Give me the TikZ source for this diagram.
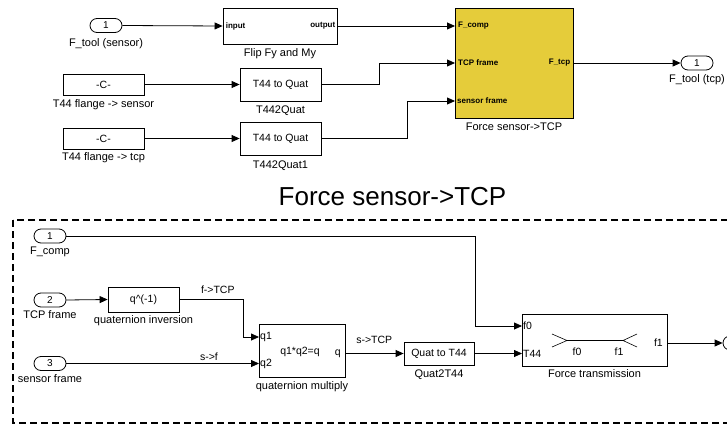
\documentclass[tikz,border=0pt]{standalone}
\usepackage{fontspec}
\setmainfont{Liberation Sans}
\usetikzlibrary{arrows.meta, positioning, calc}

\definecolor{subsysyellow}{RGB}{229,204,58}

\tikzset{
  blk/.style={draw, line width=0.8pt, fill=white, inner sep=0pt, font=\fontsize{10.5}{12}\selectfont},
  inport/.style={draw, line width=0.8pt, rounded corners=7pt, minimum width=32pt, minimum height=14pt, inner sep=0pt, font=\fontsize{10}{12}\selectfont},
  lbl/.style={inner sep=0pt, text height=8pt, text depth=2.5pt, font=\fontsize{11}{12}\selectfont},
  pinlbl/.style={inner sep=1pt, font=\fontsize{8}{9}\selectfont\bfseries},
  sublbl/.style={inner sep=1pt, font=\fontsize{10.5}{12}\selectfont},
  sig/.style={line width=0.8pt, -{Triangle[length=8pt,width=7pt]}},
}

\begin{document}
\begin{tikzpicture}[x=1pt, y=-1pt]
        \useasboundingbox (0,0) rectangle (727,425);

        % Top level model
        \node[inport] (ftool) at (106,25.5) {1};
        \node[lbl, below=5pt of ftool] (ftool-lbl) {F\_tool (sensor)};
        \node[blk, minimum width=114pt, minimum height=36pt] (flip) at (280,26) {};
        \node[pinlbl, anchor=west] (flip-in) at ($(flip.west)+(2,0)$) {input};
        \node[pinlbl, anchor=east] (flip-out) at ($(flip.east)+(-1,0)$) {output};
        \node[lbl, below=4pt of flip] (flip-lbl) {Flip Fy and My};

        \node[blk, minimum width=81pt, minimum height=21pt] (cs) at (103.5,84.5) {-C-};
        \node[lbl, below=4pt of cs] (cs-lbl) {T44 flange -> sensor};
        \node[blk, minimum width=81pt, minimum height=33pt] (tq) at (280.5,84.5) {T44 to Quat};
        \node[lbl, below=4pt of tq] (tq-lbl) {T442Quat};

        \node[blk, minimum width=81pt, minimum height=21pt] (ct) at (103.5,138.5) {-C-};
        \node[lbl, below=3pt of ct] (ct-lbl) {T44 flange -> tcp};
        \node[blk, minimum width=81pt, minimum height=33pt] (tq1) at (280.5,138.5) {T44 to Quat};
        \node[lbl, below=5pt of tq1] (tq1-lbl) {T442Quat1};

        % Subsystem block
        \node[draw, line width=0.8pt, fill=subsysyellow, minimum width=118pt, minimum height=110pt] (fs) at (514,63) {};
        \coordinate (fs-in1) at (455,26);
        \coordinate (fs-in2) at (455,63);
        \coordinate (fs-in3) at (455,101);
        \node[pinlbl, anchor=west] (fs-p1) at ($(fs-in1)+(2,0)$) {F\_comp};
        \node[pinlbl, anchor=west] (fs-p2) at ($(fs-in2)+(2,0)$) {TCP frame};
        \node[pinlbl, anchor=west] (fs-p3) at ($(fs-in3)+(1,0)$) {sensor frame};
        \node[pinlbl, anchor=east] (fs-p4) at ($(fs.east)+(-2,0)$) {F\_tcp};
        \node[lbl, below=4pt of fs] (fs-lbl) {Force sensor->TCP};

        \node[inport] (ftcp) at (697,63) {1};
        \node[lbl, below=4pt of ftcp] (ftcp-lbl) {F\_tool (tcp)};

        % Top level wires
        \draw[sig] (ftool.east) -- (flip.west);
        \draw[sig] (cs.east) -- (tq.west);
        \draw[sig] (ct.east) -- (tq1.west);
        \draw[sig] (flip.east) -- (fs-in1);
        \draw[sig] (tq.east) -- ++(58,0) |- (fs-in2);
        \draw[sig] (tq1.east) -- ++(86,0) |- (fs-in3);
        \draw[sig] (fs.east) -- (ftcp.west);

        % Inside the subsystem
        \node[font=\fontsize{26}{30}\selectfont, inner sep=0pt] (title) at (392.5,197) {Force sensor->TCP};
        \draw[line width=1.1pt, dash pattern=on 7pt off 4pt] (13,220) rectangle (745,423);

        \node[inport] (fcomp) at (50,236) {1};
        \node[lbl, below=3pt of fcomp] (fcomp-lbl) {F\_comp};
        \node[inport] (tcpf) at (50,300) {2};
        \node[lbl, below=3pt of tcpf] (tcpf-lbl) {TCP frame};
        \node[inport] (senf) at (50,363.5) {3};
        \node[lbl, below=3pt of senf] (senf-lbl) {sensor frame};

        \node[blk, minimum width=71pt, minimum height=25pt] (qinv) at (143.5,299.5) {q\textasciicircum(-1)};
        \node[lbl, below=3pt of qinv] (qinv-lbl) {quaternion inversion};

        \node[blk, minimum width=86pt, minimum height=53pt] (qmul) at (302,350.5) {};
        \coordinate (qmul-in1) at (259,337);
        \coordinate (qmul-in2) at (259,363.5);
        \coordinate (qmul-out) at (345,353.5);
        \node[sublbl, anchor=west] (qmul-p1) at (qmul-in1) {q1};
        \node[sublbl, anchor=west] (qmul-p2) at (qmul-in2) {q2};
        \node[sublbl, anchor=east] (qmul-p3) at ($(qmul-out)+(-3,0)$) {q};
        \node[sublbl] (qmul-eq) at (300,351.5) {q1*q2=q};
        \node[lbl, below=4pt of qmul] (qmul-lbl) {quaternion multiply};

        \node[blk, minimum width=70pt, minimum height=23pt] (qt) at (439,353.5) {Quat to T44};
        \node[lbl, below=4pt of qt] (qt-lbl) {Quat2T44};

        \node[blk, minimum width=145pt, minimum height=52pt] (ftr) at (594.5,340) {};
        \coordinate (ftr-in1) at (522,326);
        \coordinate (ftr-in2) at (522,353.5);
        \coordinate (ftr-out) at (667,343);
        \node[sublbl, anchor=west] (ftr-p1) at (ftr-in1) {f0};
        \node[sublbl, anchor=west] (ftr-p2) at (ftr-in2) {T44};
        \node[sublbl, anchor=east] (ftr-p3) at ($(ftr-out)+(-3,0)$) {f1};
        \draw[line width=0.6pt] (552,334) -- (567,340.5) -- (552,347);
        \draw[line width=0.6pt] (567,340.5) -- (623,340.5);
        \draw[line width=0.6pt] (637,334) -- (623,340.5) -- (637,347);
        \node[sublbl] (ftr-f0) at (577,352) {f0};
        \node[sublbl] (ftr-f1) at (619,352) {f1};
        \node[lbl, below=3pt of ftr] (ftr-lbl) {Force transmission};

        \node[inport] (fout) at (739,343) {};

        % Wires
        \draw[sig] (fcomp.east) -- ++(409,0) |- (ftr-in1);
        \draw[sig] (tcpf.east) -- (qinv.west);
        \draw[sig] (qinv.east) -- ++(64,0)
          node[sublbl, pos=0.6, above=5pt] (ftcp-sig) {f->TCP} |- (qmul-in1);
        \draw[sig] (senf.east) -- (qmul-in2)
          node[sublbl, pos=0.74, above=2pt] (sf-sig) {s->f};
        \draw[sig] (qmul-out) -- (qt.west)
          node[sublbl, midway, above=9pt] (stcp-sig) {s->TCP};
        \draw[sig] (qt.east) -- (ftr-in2);
        \draw[sig] (ftr-out) -- (fout.west);
    \end{tikzpicture}
\end{document}
